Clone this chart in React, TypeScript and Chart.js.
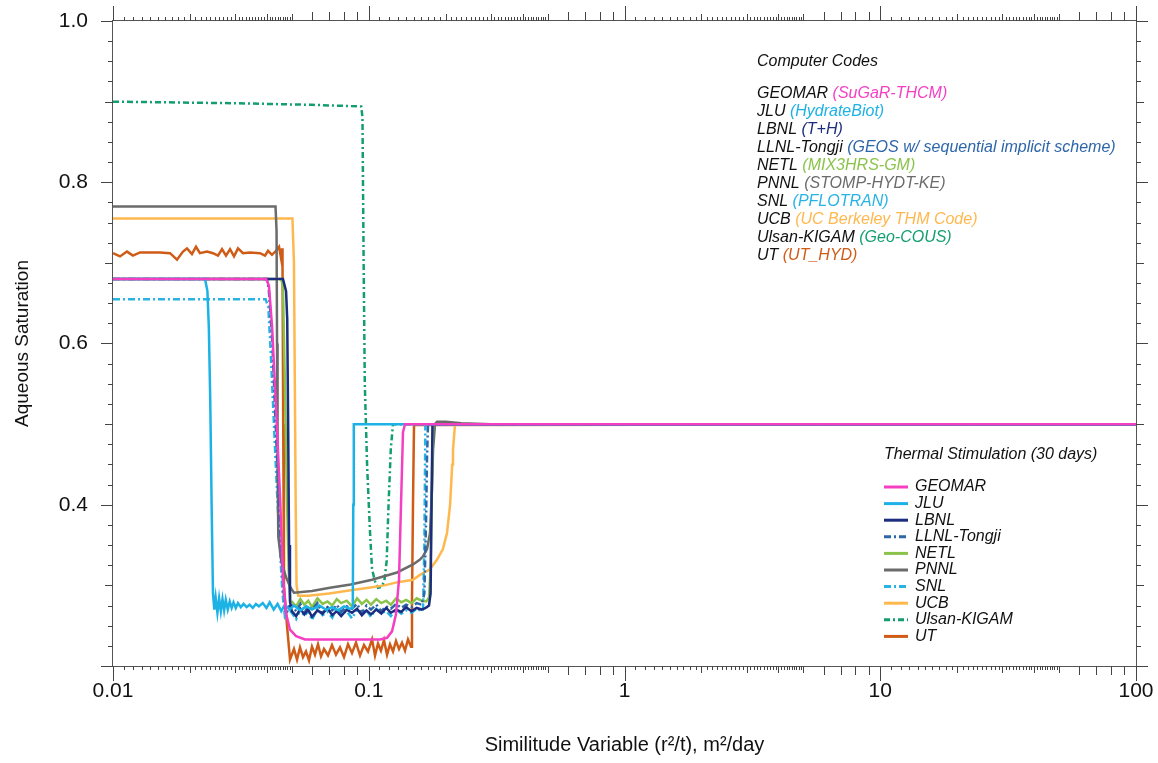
import React, { useEffect, useRef } from 'react';
import { Chart, registerables } from 'chart.js';

Chart.register(...registerables);

// ---------------- data ----------------
const xTickLabels = ['0.01', '0.1', '1', '10', '100'];
const yTickLabels = ['0.4', '0.6', '0.8', '1.0'];

const seriesNames = ['GEOMAR', 'JLU', 'LBNL', 'LLNL-Tongji', 'NETL', 'PNNL', 'SNL', 'UCB', 'Ulsan-KIGAM', 'UT'];
const codeNames = ['SuGaR-THCM', 'HydrateBiot', 'T+H', 'GEOS w/ sequential implicit scheme', 'MIX3HRS-GM', 'STOMP-HYDT-KE', 'PFLOTRAN', 'UC Berkeley THM Code', 'Geo-COUS', 'UT_HYD'];

const geomarX = [0.01, 0.0397, 0.0407, 0.0419, 0.0434, 0.0450, 0.0462, 0.0475, 0.0492, 0.0520, 0.0563, 0.0900, 0.1107, 0.1179, 0.1233, 0.1278, 0.1313, 0.1337, 0.1361, 0.1386, 100];
const geomarY = [0.680, 0.680, 0.672, 0.620, 0.520, 0.410, 0.310, 0.265, 0.245, 0.237, 0.233, 0.233, 0.233, 0.235, 0.243, 0.264, 0.307, 0.400, 0.490, 0.500, 0.500];

const jluX = [0.01, 0.0229, 0.0234, 0.0237, 0.0240, 0.0243, 0.0246, 0.0249, 0.0252, 0.0256, 0.0260, 0.0264, 0.0268, 0.0272, 0.0276, 0.0281, 0.0286, 0.0291, 0.0296, 0.0302, 0.0308, 0.0316, 0.0324, 0.0333, 0.0342, 0.0352, 0.0362, 0.0372, 0.0385, 0.0398, 0.0410, 0.0425, 0.0440, 0.0455, 0.0470, 0.0490, 0.0510, 0.0540, 0.0570, 0.0600, 0.0640, 0.0680, 0.0720, 0.0760, 0.0800, 0.0840, 0.0866, 0.0870, 0.0874, 100];
const jluY = [0.680, 0.680, 0.665, 0.620, 0.530, 0.400, 0.290, 0.270, 0.285, 0.266, 0.284, 0.268, 0.283, 0.269, 0.282, 0.270, 0.280, 0.272, 0.279, 0.272, 0.278, 0.273, 0.277, 0.273, 0.276, 0.272, 0.277, 0.274, 0.278, 0.272, 0.279, 0.270, 0.277, 0.268, 0.276, 0.270, 0.275, 0.269, 0.274, 0.270, 0.275, 0.270, 0.273, 0.269, 0.274, 0.271, 0.272, 0.400, 0.500, 0.500];

const bandX = [0.0500, 0.0520, 0.0540, 0.0560, 0.0580, 0.0600, 0.0630, 0.0660, 0.0690, 0.0720, 0.0750, 0.0780, 0.0820, 0.0860, 0.0900, 0.0940, 0.0980, 0.1020, 0.1070, 0.1120, 0.1170, 0.1220, 0.1280, 0.1340, 0.1400, 0.1470, 0.1540, 0.1610];

const lbnlX = [0.01, 0.0462, 0.0475, 0.0480, 0.0484, 0.0488, 0.0492, ...bandX, 0.1670, 0.1720, 0.1745, 0.1760, 0.1775, 100];
const lbnlY = [0.680, 0.680, 0.665, 0.630, 0.500, 0.350, 0.280,
  0.268, 0.262, 0.271, 0.264, 0.270, 0.261, 0.269, 0.265, 0.272, 0.263, 0.268, 0.262, 0.270, 0.266, 0.271, 0.263, 0.269, 0.264, 0.270, 0.265, 0.272, 0.266, 0.270, 0.267, 0.273, 0.268, 0.272, 0.270,
  0.272, 0.275, 0.290, 0.400, 0.500, 0.500];

const llnlX = [0.01, 0.0400, 0.0407, 0.0420, 0.0435, 0.0450, 0.0465, 0.0475, 0.0488, ...bandX, 0.1650, 0.1675, 0.1690, 0.1705, 100];
const llnlY = [0.680, 0.680, 0.665, 0.600, 0.480, 0.370, 0.290, 0.265, 0.274,
  0.275, 0.268, 0.277, 0.266, 0.274, 0.270, 0.278, 0.265, 0.273, 0.269, 0.276, 0.267, 0.274, 0.271, 0.277, 0.266, 0.275, 0.270, 0.276, 0.268, 0.274, 0.271, 0.277, 0.272, 0.276, 0.273, 0.278, 0.276,
  0.290, 0.380, 0.460, 0.500, 0.500];

const netlX = [0.01, 0.0455, 0.0462, 0.0470, 0.0478, 0.0486, 0.0494, ...bandX, 0.1680, 0.1720, 0.1745, 0.1770, 0.1785, 100];
const netlY = [0.680, 0.680, 0.670, 0.550, 0.420, 0.320, 0.280,
  0.280, 0.274, 0.283, 0.276, 0.281, 0.273, 0.284, 0.277, 0.280, 0.275, 0.283, 0.278, 0.281, 0.274, 0.284, 0.277, 0.282, 0.276, 0.283, 0.278, 0.281, 0.276, 0.284, 0.279, 0.282, 0.278, 0.284, 0.281,
  0.280, 0.285, 0.320, 0.450, 0.500, 0.500];

const pnnlX = [0.01, 0.0432, 0.0436, 0.0438, 0.0440, 0.0443, 0.0455, 0.0475, 0.0495, 0.0510, 0.0600, 0.0705, 0.0850, 0.1030, 0.1290, 0.1490, 0.1586, 0.1630, 0.1690, 0.1736, 0.1768, 0.1784, 0.1816, 0.1850, 0.2000, 0.2300, 0.3000, 100];
const pnnlY = [0.770, 0.770, 0.740, 0.600, 0.450, 0.360, 0.330, 0.310, 0.297, 0.291, 0.293, 0.297, 0.301, 0.307, 0.316, 0.326, 0.332, 0.336, 0.345, 0.365, 0.420, 0.468, 0.500, 0.503, 0.503, 0.501, 0.500, 0.500];

const snlX = [0.01, 0.0395, 0.0405, 0.0415, 0.0430, 0.0445, 0.0460, 0.0470, 0.0485, ...bandX, 0.1630, 0.1650, 0.1665, 100];
const snlY = [0.655, 0.655, 0.645, 0.580, 0.470, 0.370, 0.290, 0.262, 0.270,
  0.266, 0.258, 0.270, 0.262, 0.268, 0.257, 0.271, 0.263, 0.267, 0.260, 0.272, 0.264, 0.268, 0.259, 0.270, 0.265, 0.269, 0.261, 0.271, 0.266, 0.268, 0.262, 0.270, 0.265, 0.269, 0.266, 0.271, 0.268,
  0.270, 0.350, 0.500, 0.500];

const ucbX = [0.01, 0.0503, 0.0510, 0.0514, 0.0518, 0.0522, 0.0530, 0.0580, 0.0700, 0.0850, 0.1000, 0.1150, 0.1300, 0.1490, 0.1586, 0.1736, 0.1850, 0.1950, 0.2023, 0.2080, 0.2120, 0.2135, 0.2174, 100];
const ucbY = [0.755, 0.755, 0.700, 0.550, 0.400, 0.300, 0.287, 0.287, 0.290, 0.294, 0.297, 0.300, 0.304, 0.307, 0.313, 0.320, 0.332, 0.345, 0.365, 0.400, 0.450, 0.468, 0.500, 0.500];

const ulsanX = [0.01, 0.0300, 0.0600, 0.0935, 0.0945, 0.0955, 0.0965, 0.0985, 0.1010, 0.1030, 0.1058, 0.1087, 0.1120, 0.1150, 0.1175, 0.1195, 0.1220, 0.1244, 100];
const ulsanY = [0.900, 0.898, 0.896, 0.894, 0.880, 0.700, 0.550, 0.450, 0.370, 0.320, 0.305, 0.297, 0.298, 0.305, 0.330, 0.400, 0.470, 0.500, 0.500];

const utX = [0.01, 0.01065, 0.01134, 0.01197, 0.01275, 0.01527, 0.01671, 0.01779, 0.01878, 0.01947, 0.02036, 0.02111, 0.02188, 0.02331, 0.02460, 0.02574, 0.02668, 0.02766, 0.02868, 0.02973, 0.03082, 0.03223, 0.03434, 0.03757, 0.03930, 0.04037, 0.04186, 0.04339, 0.04459, 0.04539, 0.04580,
  0.04600, 0.04630, 0.04660, 0.04790, 0.04922,
  0.05101, 0.05242, 0.05385, 0.05532, 0.05683, 0.05839, 0.05999, 0.06163, 0.06333, 0.06506, 0.06683, 0.06928, 0.07183, 0.07445, 0.07721, 0.08003, 0.08297, 0.08601, 0.08916, 0.09244, 0.09581, 0.09933, 0.1030, 0.1058, 0.1087, 0.1116, 0.1147, 0.1179, 0.1211, 0.1244, 0.1278, 0.1313, 0.1349, 0.1386, 0.1424, 0.1463, 0.1476, 0.1490, 0.1503,
  100];
const utY = [0.712, 0.708, 0.714, 0.709, 0.713, 0.713, 0.712, 0.704, 0.714, 0.718, 0.711, 0.720, 0.712, 0.714, 0.712, 0.709, 0.717, 0.709, 0.717, 0.708, 0.718, 0.712, 0.713, 0.712, 0.709, 0.715, 0.710, 0.715, 0.720, 0.706, 0.718,
  0.700, 0.500, 0.300, 0.250, 0.208,
  0.221, 0.208, 0.223, 0.211, 0.218, 0.207, 0.224, 0.214, 0.227, 0.212, 0.221, 0.213, 0.226, 0.214, 0.223, 0.211, 0.227, 0.216, 0.229, 0.213, 0.226, 0.218, 0.233, 0.213, 0.228, 0.219, 0.232, 0.214, 0.227, 0.218, 0.231, 0.221, 0.229, 0.219, 0.233, 0.224, 0.282, 0.406, 0.499,
  0.500];

const seriesX = [geomarX, jluX, lbnlX, llnlX, netlX, pnnlX, snlX, ucbX, ulsanX, utX];
const seriesY = [geomarY, jluY, lbnlY, llnlY, netlY, pnnlY, snlY, ucbY, ulsanY, utY];

// ---------------- styles ----------------
const seriesColors = ['#F43FC3', '#1DB2E6', '#1C2C7E', '#2E66AA', '#8BC34A', '#6B6B6B', '#27B4E4', '#FFB84D', '#139E70', '#CF5B16'];
const seriesDash: number[][] = [[], [], [], [7, 3, 2, 3], [], [], [7, 3, 2, 3], [], [6, 3, 2, 3], []];

const FONT = '"Liberation Sans", Arial, Helvetica, sans-serif';

function zip(xs: number[], ys: number[]) {
  const n = Math.min(xs.length, ys.length);
  const out: { x: number; y: number }[] = [];
  for (let i = 0; i < n; i++) out.push({ x: xs[i], y: ys[i] });
  return out;
}

const isPow10 = (v: number) => {
  const l = Math.log10(v);
  return Math.abs(l - Math.round(l)) < 1e-6;
};

const zeroPad = (s: any) => {
  s.paddingTop = 0;
  s.paddingBottom = 0;
  s.paddingLeft = 0;
  s.paddingRight = 0;
};

const framePlugin = {
  id: 'frameAndNotes',
  afterDraw(chart: any) {
    const { ctx, chartArea, scales } = chart;
    const { left, right, top, bottom } = chartArea;
    const xs = scales.x;
    const ys = scales.y;
    ctx.save();
    ctx.strokeStyle = '#555';
    ctx.lineWidth = 1;
    ctx.strokeRect(left - 0.5, top - 0.5, right - left + 1, bottom - top + 1);

    // x ticks (bottom and top)
    const xTicks: [number, number][] = [];
    for (let d = -2; d <= 1; d++) {
      const base = Math.pow(10, d);
      for (let k = 11; k <= 49; k++) {
        const len = k % 10 === 0 ? 7 : 4;
        xTicks.push([base * k / 10, len]);
      }
      xTicks.push([base * 5, 7]);
      for (let k = 6; k <= 9; k++) xTicks.push([base * k, 9]);
    }
    for (let d = -2; d <= 2; d++) xTicks.push([Math.pow(10, d), 15]);
    ctx.beginPath();
    for (const [v, len] of xTicks) {
      const px = Math.round(xs.getPixelForValue(v)) + 0.5;
      ctx.moveTo(px, bottom);
      ctx.lineTo(px, bottom + len);
      ctx.moveTo(px, top);
      ctx.lineTo(px, top - len);
    }
    // y ticks (left and right)
    for (let i = 0; i <= 32; i++) {
      const v = 0.2 + i * 0.025;
      const len = i % 8 === 0 ? 12 : i % 4 === 0 ? 8 : 5;
      const py = Math.round(ys.getPixelForValue(v)) + 0.5;
      ctx.moveTo(left, py);
      ctx.lineTo(left - len, py);
      ctx.moveTo(right, py);
      ctx.lineTo(right + len, py);
    }
    ctx.strokeStyle = '#444';
    ctx.stroke();

    // computer codes list
    ctx.textBaseline = 'middle';
    ctx.textAlign = 'left';
    ctx.font = `italic 16px ${FONT}`;
    ctx.fillStyle = '#111';
    const cx = 757;
    ctx.fillText('Computer Codes', cx, 62);
    for (let i = 0; i < seriesNames.length; i++) {
      const yy = 94 + i * 18;
      const head = seriesNames[i] + ' ';
      ctx.fillStyle = '#111';
      ctx.fillText(head, cx, yy);
      const w = ctx.measureText(head).width;
      ctx.fillStyle = seriesColors[i];
      ctx.fillText('(' + codeNames[i] + ')', cx + w, yy);
    }

    // legend
    const lx = 884;
    ctx.fillStyle = '#111';
    ctx.fillText('Thermal Stimulation (30 days)', lx, 455);
    chart.data.datasets.forEach((ds: any, i: number) => {
      const yy = 487 + i * 16.6;
      ctx.save();
      ctx.strokeStyle = ds.borderColor;
      ctx.lineWidth = 3;
      ctx.setLineDash(ds.borderDash || []);
      ctx.beginPath();
      ctx.moveTo(lx, yy);
      ctx.lineTo(lx + 24, yy);
      ctx.stroke();
      ctx.restore();
      ctx.fillStyle = '#111';
      ctx.fillText(ds.label, lx + 31, yy);
    });
    ctx.restore();
  },
};

export default function App() {
  const ref = useRef<HTMLCanvasElement | null>(null);

  useEffect(() => {
    if (!ref.current) return;
    const datasets = seriesNames.map((name, i) => ({
      label: name,
      data: zip(seriesX[i], seriesY[i]),
      borderColor: seriesColors[i],
      backgroundColor: seriesColors[i],
      borderDash: seriesDash[i],
      borderWidth: 2.5,
      pointRadius: 0,
      tension: 0,
      fill: false,
    }));

    const chart = new Chart(ref.current, {
      type: 'line',
      data: { datasets },
      options: {
        animation: false,
        responsive: false,
        devicePixelRatio: 1,
        layout: { padding: { top: 21, right: 22, left: 0, bottom: 0 } },
        plugins: {
          legend: { display: false },
          tooltip: { enabled: false },
        },
        scales: {
          x: {
            type: 'logarithmic',
            position: 'bottom',
            min: 0.01,
            max: 100,
            grid: { display: false, drawTicks: false },
            border: { display: false },
            afterFit: (s: any) => { s.height = 97; zeroPad(s); },
            ticks: {
              autoSkip: false,
              maxRotation: 0,
              minRotation: 0,
              padding: 13,
              color: '#111',
              font: { family: FONT, size: 21 },
              callback: (v: any) => {
                const n = Number(v);
                if (!isPow10(n)) return '';
                const idx = Math.round(Math.log10(n)) + 2;
                return xTickLabels[idx] ?? '';
              },
            },
            title: {
              display: true,
              text: 'Similitude Variable (r²/t), m²/day',
              color: '#111',
              font: { family: FONT, size: 20 },
              padding: { top: 0, bottom: 6 },
            },
          },
          y: {
            type: 'linear',
            min: 0.2,
            max: 1.0,
            grid: { display: false, drawTicks: false },
            border: { display: false },
            afterFit: (s: any) => { s.width = 113; zeroPad(s); },
            ticks: {
              stepSize: 0.2,
              padding: 25,
              color: '#111',
              font: { family: FONT, size: 21 },
              callback: (v: any) => {
                const n = Number(v);
                const idx = Math.round((n - 0.4) / 0.2);
                if (n < 0.3) return '';
                return yTickLabels[idx] ?? '';
              },
            },
            title: {
              display: true,
              text: 'Aqueous Saturation',
              color: '#111',
              font: { family: FONT, size: 19 },
              padding: { top: 11, bottom: 0 },
            },
          },
        },
      },
      plugins: [framePlugin],
    });
    return () => chart.destroy();
  }, []);

  return (
    <div style={{ position: 'absolute', left: 0, top: 0, width: 1158, height: 763, background: '#fff' }}>
      <canvas ref={ref} width={1158} height={763} style={{ display: 'block' }} />
    </div>
  );
}
